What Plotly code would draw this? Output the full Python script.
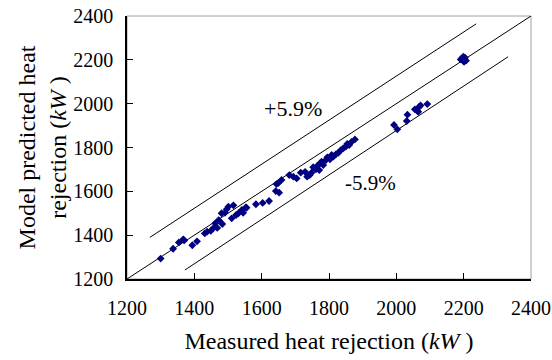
import plotly.graph_objects as go

# Measured vs predicted heat rejection (kW)
measured = [1300, 1337, 1354, 1367, 1370, 1394, 1408, 1431, 1438, 1449, 1456, 1462, 1468, 1472, 1474,
            1483, 1481, 1491, 1496, 1501, 1516, 1511, 1524, 1531, 1541, 1553, 1545, 1555,
            1583, 1603, 1622, 1644, 1642, 1652, 1659, 1649, 1682, 1694, 1704, 1716, 1729, 1735,
            1743, 1748, 1753, 1761, 1765, 1773, 1771, 1778, 1783, 1791, 1795, 1803, 1808, 1813,
            1821, 1828, 1835, 1842, 1850, 1854, 1860, 1867, 1877,
            1993, 2003, 2033, 2031, 2055, 2062, 2068, 2072, 2065, 2092,
            2191, 2199, 2207, 2201, 2195, 2204, 2197]
predicted = [1293, 1338, 1367, 1381, 1376, 1354, 1372, 1408, 1416, 1420, 1431, 1454, 1433, 1468, 1466,
             1451, 1500, 1502, 1518, 1530, 1536, 1477, 1492, 1500, 1515, 1527, 1502, 1525,
             1541, 1547, 1556, 1633, 1601, 1594, 1652, 1637, 1674, 1667, 1659, 1685, 1689, 1667,
             1674, 1685, 1710, 1700, 1716, 1728, 1697, 1735, 1720, 1743, 1755, 1746, 1766, 1758,
             1770, 1776, 1788, 1796, 1804, 1816, 1811, 1826, 1837,
             1903, 1883, 1950, 1921, 1974, 1968, 1986, 1992, 1963, 1998,
             2202, 2214, 2196, 2191, 2207, 2210, 2199]

diag_x = [1200, 2400]
diag_y = [1200, 2400]
upper_x = [1268, 2237]
upper_y = [1390, 2364]
lower_x = [1372, 2332]
lower_y = [1241, 2214]

x_ticks = [1200, 1400, 1600, 1800, 2000, 2200, 2400]
y_ticks = [1200, 1400, 1600, 1800, 2000, 2200, 2400]

FONT = "Liberation Serif"

fig = go.Figure()
for lx, ly in [(diag_x, diag_y), (upper_x, upper_y), (lower_x, lower_y)]:
    fig.add_trace(go.Scatter(x=lx, y=ly, mode="lines", line=dict(color="black", width=1),
                             showlegend=False, hoverinfo="skip"))
fig.add_trace(go.Scatter(x=measured, y=predicted, mode="markers",
                         marker=dict(symbol="diamond", size=6, color="#000080"),
                         showlegend=False))

fig.add_annotation(x=1693, y=1980, text="+5.9%", showarrow=False,
                   font=dict(family=FONT, size=22, color="black"))
fig.add_annotation(x=1922, y=1638, text="-5.9%", showarrow=False,
                   font=dict(family=FONT, size=21, color="black"))

fig.add_shape(type="rect", xref="paper", yref="paper", x0=0, y0=0, x1=1, y1=1,
              line=dict(color="#a0a0a0", width=1), layer="below")

fig.update_layout(
    width=552, height=360,
    margin=dict(l=127, r=21, t=16, b=81),
    paper_bgcolor="white", plot_bgcolor="white",
    font=dict(family=FONT, size=20, color="black"),
    xaxis=dict(range=[1200, 2400], tickvals=x_ticks, ticks="inside", ticklen=6,
               tickcolor="black", showline=True, linecolor="black", linewidth=1.5,
               showgrid=False, zeroline=False, ticklabelstandoff=10, automargin=False,
               tickfont=dict(family=FONT, size=20, color="black"),
               title=dict(text="Measured heat rejection (<i>kW</i> )",
                          font=dict(family=FONT, size=24, color="black"), standoff=14)),
    yaxis=dict(range=[1200, 2400], tickvals=y_ticks, ticks="inside", ticklen=6,
               tickcolor="black", showline=True, linecolor="black", linewidth=1.5,
               showgrid=False, zeroline=False, ticklabelstandoff=8, automargin=False,
               tickfont=dict(family=FONT, size=20, color="black"),
               title=dict(text="Model predicted heat<br>rejection (<i>kW</i> )",
                          font=dict(family=FONT, size=24, color="black"), standoff=0)),
)

fig.write_html("out.html")
